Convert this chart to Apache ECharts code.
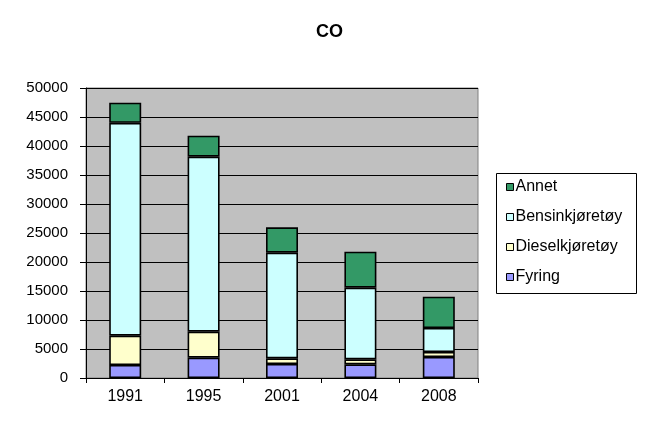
<!DOCTYPE html>
<html>
<head>
<meta charset="utf-8">
<script src="https://cdn.jsdelivr.net/npm/echarts@6/dist/echarts.min.js"></script>
<style>html,body{margin:0;padding:0;background:#fff}#c{width:647px;height:442px}</style>
</head>
<body>
<div id="c"></div>
<script>
var categories = ['1991', '1995', '2001', '2004', '2008'];
var fyring = [2240, 3500, 2410, 2360, 3620];
var diesel = [5050, 4480, 980, 860, 860];
var bensin = [36700, 30180, 18220, 12350, 4140];
var annet = [3470, 3620, 4370, 6210, 5400];
var yTicks = [0, 50000, 5000];

var chart = echarts.init(document.getElementById('c'));
var font = 'Liberation Sans, Arial, sans-serif';
function s(name, data, color) {
  return {
    name: name, type: 'bar', stack: 'total', data: data, barWidth: 32,
    itemStyle: { color: color, borderColor: '#000', borderWidth: 1.6 },
    emphasis: { disabled: true }
  };
}
chart.setOption({
  animation: false,
  backgroundColor: '#fff',
  title: {
    text: 'CO', left: 311, top: 18,
    textStyle: { fontFamily: font, fontSize: 18, fontWeight: 'bold', color: '#000' }
  },
  grid: {
    left: 86, right: 169, top: 88, bottom: 64, show: true,
    backgroundColor: '#C0C0C0', borderColor: '#808080', borderWidth: 1
  },
  graphic: [{
    type: 'rect', left: 496, top: 173, shape: { width: 140, height: 120 },
    style: { fill: '#fff', stroke: '#000', lineWidth: 1 }, z: 0
  }],
  legend: {
    orient: 'vertical', left: 506, top: 179, padding: 0, itemGap: 14,
    itemWidth: 7, itemHeight: 7, icon: 'rect', z: 10,
    data: ['Annet', 'Bensinkjøretøy', 'Dieselkjøretøy', 'Fyring'],
    itemStyle: { borderColor: '#000', borderWidth: 1 },
    textStyle: { fontFamily: font, fontSize: 16, lineHeight: 16, color: '#000', padding: [0, 0, 0, -3] }
  },
  xAxis: {
    type: 'category', data: categories,
    axisLine: { lineStyle: { color: '#000', width: 1 } },
    axisTick: { show: true, length: 5, lineStyle: { color: '#000' } },
    axisLabel: { fontFamily: font, fontSize: 16, color: '#000', margin: 11 }
  },
  yAxis: {
    type: 'value', min: yTicks[0], max: yTicks[1], interval: yTicks[2],
    axisLine: { show: true, lineStyle: { color: '#000', width: 1 } },
    axisTick: { show: true, length: 6, lineStyle: { color: '#000' } },
    splitLine: { lineStyle: { color: '#000', width: 1 } },
    axisLabel: { fontFamily: font, fontSize: 15, color: '#000', margin: 18,
      formatter: function (v) { return String(v); } }
  },
  series: [
    s('Fyring', fyring, '#9999FF'),
    s('Dieselkjøretøy', diesel, '#FFFFCC'),
    s('Bensinkjøretøy', bensin, '#CCFFFF'),
    s('Annet', annet, '#339966')
  ]
});
</script>
</body>
</html>
